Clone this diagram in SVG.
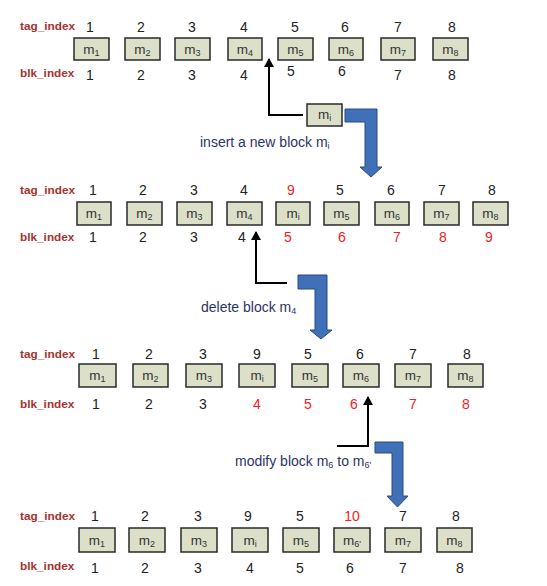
<svg xmlns="http://www.w3.org/2000/svg" width="547" height="586" viewBox="0 0 547 586">
<style>
text{font-family:"Liberation Sans",Arial,sans-serif}
.lbl{font-size:11.8px;font-weight:bold;fill:#a8322d}
.n{font-size:14px;fill:#222;text-anchor:middle}
.r{fill:#ee2222}
.box{fill:#dde0c9;stroke:#2a2a2a;stroke-width:1.5}
.bt{font-size:13.5px;fill:#333;text-anchor:middle}
.sub{font-size:9px}
.cap{font-size:14px;fill:#2b3466}
.blk{fill:none;stroke:#000;stroke-width:2}
.blue{fill:#4070b8;stroke:#284a82;stroke-width:1}
</style>
<defs>
<marker id="ah" markerWidth="10" markerHeight="10" refX="8" refY="5" orient="auto" markerUnits="userSpaceOnUse">
<path d="M0,0 L9,5 L0,10 Z" fill="#000"/>
</marker>
</defs>

<!-- Row 1 -->
<g id="row1">
<text class="lbl" x="20" y="30">tag_index</text>
<text class="lbl" x="20" y="77">blk_index</text>
<g class="n"><text x="90" y="32">1</text><text x="141" y="32">2</text><text x="192" y="32">3</text><text x="244" y="32">4</text><text x="295" y="32">5</text><text x="345" y="32">6</text><text x="398" y="32">7</text><text x="452" y="32">8</text></g>
<g class="n"><text x="90" y="80">1</text><text x="141" y="80">2</text><text x="192" y="80">3</text><text x="244" y="80">4</text><text x="291" y="76">5</text><text x="342" y="76">6</text><text x="398" y="80">7</text><text x="452" y="80">8</text></g>
<g id="r1m1"><rect class="box" x="74" y="38" width="35" height="22"/><text class="bt" x="91.5" y="54">m<tspan class="sub" dy="2">1</tspan></text></g>
<g id="r1m2"><rect class="box" x="125" y="38" width="35" height="22"/><text class="bt" x="142.5" y="54">m<tspan class="sub" dy="2">2</tspan></text></g>
<g id="r1m3"><rect class="box" x="175" y="38" width="35" height="22"/><text class="bt" x="192.5" y="54">m<tspan class="sub" dy="2">3</tspan></text></g>
<g id="r1m4"><rect class="box" x="228" y="38" width="34" height="22"/><text class="bt" x="245" y="54">m<tspan class="sub" dy="2">4</tspan></text></g>
<g id="r1m5"><rect class="box" x="278" y="38" width="35" height="22"/><text class="bt" x="295.5" y="54">m<tspan class="sub" dy="2">5</tspan></text></g>
<g id="r1m6"><rect class="box" x="329" y="38" width="34" height="22"/><text class="bt" x="346" y="54">m<tspan class="sub" dy="2">6</tspan></text></g>
<g id="r1m7"><rect class="box" x="381" y="38" width="34" height="22"/><text class="bt" x="398" y="54">m<tspan class="sub" dy="2">7</tspan></text></g>
<g id="r1m8"><rect class="box" x="433" y="38" width="35" height="22"/><text class="bt" x="450.5" y="54">m<tspan class="sub" dy="2">8</tspan></text></g>
</g>

<g id="newmi"><rect class="box" x="307" y="104" width="35" height="22"/><text class="bt" x="324.5" y="119">m<tspan class="sub" dy="2">i</tspan></text></g>
<text class="cap" x="200" y="147">insert a new block m<tspan class="sub" dy="2">i</tspan></text>

<!-- Row 2 -->
<g id="row2">
<text class="lbl" x="20" y="194">tag_index</text>
<text class="lbl" x="20" y="241">blk_index</text>
<g class="n"><text x="93" y="195">1</text><text x="143" y="195">2</text><text x="194" y="195">3</text><text x="244" y="195">4</text><text class="r" x="291" y="195">9</text><text x="340" y="195">5</text><text x="391" y="195">6</text><text x="442" y="195">7</text><text x="492" y="195">8</text></g>
<g class="n"><text x="93" y="242">1</text><text x="143" y="242">2</text><text x="194" y="242">3</text><text x="242" y="242">4</text><text class="r" x="288" y="242">5</text><text class="r" x="342" y="242">6</text><text class="r" x="397" y="242">7</text><text class="r" x="443" y="242">8</text><text class="r" x="489" y="242">9</text></g>
<g id="r2m1"><rect class="box" x="77" y="202" width="34" height="23"/><text class="bt" x="94" y="218">m<tspan class="sub" dy="2">1</tspan></text></g>
<g id="r2m2"><rect class="box" x="127" y="202" width="35" height="23"/><text class="bt" x="144.5" y="218">m<tspan class="sub" dy="2">2</tspan></text></g>
<g id="r2m3"><rect class="box" x="177" y="202" width="35" height="23"/><text class="bt" x="194.5" y="218">m<tspan class="sub" dy="2">3</tspan></text></g>
<g id="r2m4"><rect class="box" x="227" y="202" width="35" height="23"/><text class="bt" x="244.5" y="218">m<tspan class="sub" dy="2">4</tspan></text></g>
<g id="r2mi"><rect class="box" x="276" y="202" width="34" height="23"/><text class="bt" x="293" y="218">m<tspan class="sub" dy="2">i</tspan></text></g>
<g id="r2m5"><rect class="box" x="324" y="202" width="35" height="23"/><text class="bt" x="341.5" y="218">m<tspan class="sub" dy="2">5</tspan></text></g>
<g id="r2m6"><rect class="box" x="375" y="202" width="34" height="23"/><text class="bt" x="392" y="218">m<tspan class="sub" dy="2">6</tspan></text></g>
<g id="r2m7"><rect class="box" x="424" y="202" width="35" height="23"/><text class="bt" x="441.5" y="218">m<tspan class="sub" dy="2">7</tspan></text></g>
<g id="r2m8"><rect class="box" x="473" y="202" width="35" height="23"/><text class="bt" x="490.5" y="218">m<tspan class="sub" dy="2">8</tspan></text></g>
</g>

<text class="cap" x="201" y="312">delete block m<tspan class="sub" dy="2">4</tspan></text>

<!-- Row 3 -->
<g id="row3">
<text class="lbl" x="20" y="358">tag_index</text>
<text class="lbl" x="20" y="408">blk_index</text>
<g class="n"><text x="96" y="359">1</text><text x="149" y="359">2</text><text x="203" y="359">3</text><text x="257" y="359">9</text><text x="308" y="359">5</text><text x="360" y="359">6</text><text x="413" y="359">7</text><text x="467" y="359">8</text></g>
<g class="n"><text x="96" y="409">1</text><text x="149" y="409">2</text><text x="203" y="409">3</text><text class="r" x="257" y="409">4</text><text class="r" x="308" y="409">5</text><text class="r" x="354" y="409">6</text><text class="r" x="413" y="409">7</text><text class="r" x="466" y="409">8</text></g>
<g id="r3m1"><rect class="box" x="79" y="364" width="37" height="23"/><text class="bt" x="97.5" y="380">m<tspan class="sub" dy="2">1</tspan></text></g>
<g id="r3m2"><rect class="box" x="133" y="364" width="35" height="23"/><text class="bt" x="150.5" y="380">m<tspan class="sub" dy="2">2</tspan></text></g>
<g id="r3m3"><rect class="box" x="186" y="364" width="36" height="23"/><text class="bt" x="204" y="380">m<tspan class="sub" dy="2">3</tspan></text></g>
<g id="r3mi"><rect class="box" x="239" y="364" width="36" height="23"/><text class="bt" x="257" y="380">m<tspan class="sub" dy="2">i</tspan></text></g>
<g id="r3m5"><rect class="box" x="292" y="364" width="36" height="23"/><text class="bt" x="310" y="380">m<tspan class="sub" dy="2">5</tspan></text></g>
<g id="r3m6"><rect class="box" x="343" y="364" width="36" height="23"/><text class="bt" x="361" y="380">m<tspan class="sub" dy="2">6</tspan></text></g>
<g id="r3m7"><rect class="box" x="395" y="364" width="36" height="23"/><text class="bt" x="413" y="380">m<tspan class="sub" dy="2">7</tspan></text></g>
<g id="r3m8"><rect class="box" x="448" y="364" width="35" height="23"/><text class="bt" x="465.5" y="380">m<tspan class="sub" dy="2">8</tspan></text></g>
</g>

<text class="cap" x="235" y="466">modify block m<tspan class="sub" dy="2">6</tspan><tspan dy="-2"> to m</tspan><tspan class="sub" dy="2">6'</tspan></text>

<!-- Row 4 -->
<g id="row4">
<text class="lbl" x="20" y="520">tag_index</text>
<text class="lbl" x="20" y="570">blk_index</text>
<g class="n"><text x="95" y="521">1</text><text x="145" y="521">2</text><text x="198" y="521">3</text><text x="248" y="521">9</text><text x="300" y="521">5</text><text class="r" x="352" y="521">10</text><text x="403" y="521">7</text><text x="456" y="521">8</text></g>
<g class="n"><text x="95" y="573">1</text><text x="145" y="573">2</text><text x="198" y="573">3</text><text x="250" y="573">4</text><text x="300" y="573">5</text><text x="350" y="573">6</text><text x="403" y="573">7</text><text x="460" y="573">8</text></g>
<g id="r4m1"><rect class="box" x="79" y="528" width="36" height="24"/><text class="bt" x="97" y="545">m<tspan class="sub" dy="2">1</tspan></text></g>
<g id="r4m2"><rect class="box" x="129" y="528" width="36" height="24"/><text class="bt" x="147" y="545">m<tspan class="sub" dy="2">2</tspan></text></g>
<g id="r4m3"><rect class="box" x="181" y="528" width="36" height="24"/><text class="bt" x="199" y="545">m<tspan class="sub" dy="2">3</tspan></text></g>
<g id="r4mi"><rect class="box" x="232" y="528" width="36" height="24"/><text class="bt" x="250" y="545">m<tspan class="sub" dy="2">i</tspan></text></g>
<g id="r4m5"><rect class="box" x="283" y="528" width="36" height="24"/><text class="bt" x="301" y="545">m<tspan class="sub" dy="2">5</tspan></text></g>
<g id="r4m6p"><rect class="box" x="334" y="528" width="36" height="24"/><text class="bt" x="352" y="545">m<tspan class="sub" dy="2">6'</tspan></text></g>
<g id="r4m7"><rect class="box" x="385" y="528" width="36" height="24"/><text class="bt" x="403" y="545">m<tspan class="sub" dy="2">7</tspan></text></g>
<g id="r4m8"><rect class="box" x="437" y="528" width="35" height="24"/><text class="bt" x="454.5" y="545">m<tspan class="sub" dy="2">8</tspan></text></g>
</g>

<g id="connectors">
<polyline class="blk" points="303,115 269,115 269,59" marker-end="url(#ah)"/>
<polygon class="blue" points="345,109 377,109 377,167 382,167 371,177 360,167 365,167 365,122 345,122"/>
<polyline class="blk" points="287,283 256,283 256,232" marker-end="url(#ah)"/>
<polygon class="blue" points="298,275 327,275 327,330 332,330 321,339 310,330 315,330 315,289 298,289"/>
<polyline class="blk" points="337,446 368,446 368,397" marker-end="url(#ah)"/>
<polygon class="blue" points="375,442 403,442 403,496 408,496 397.5,507 387,496 392,496 392,453 375,453"/>
</g>
</svg>
